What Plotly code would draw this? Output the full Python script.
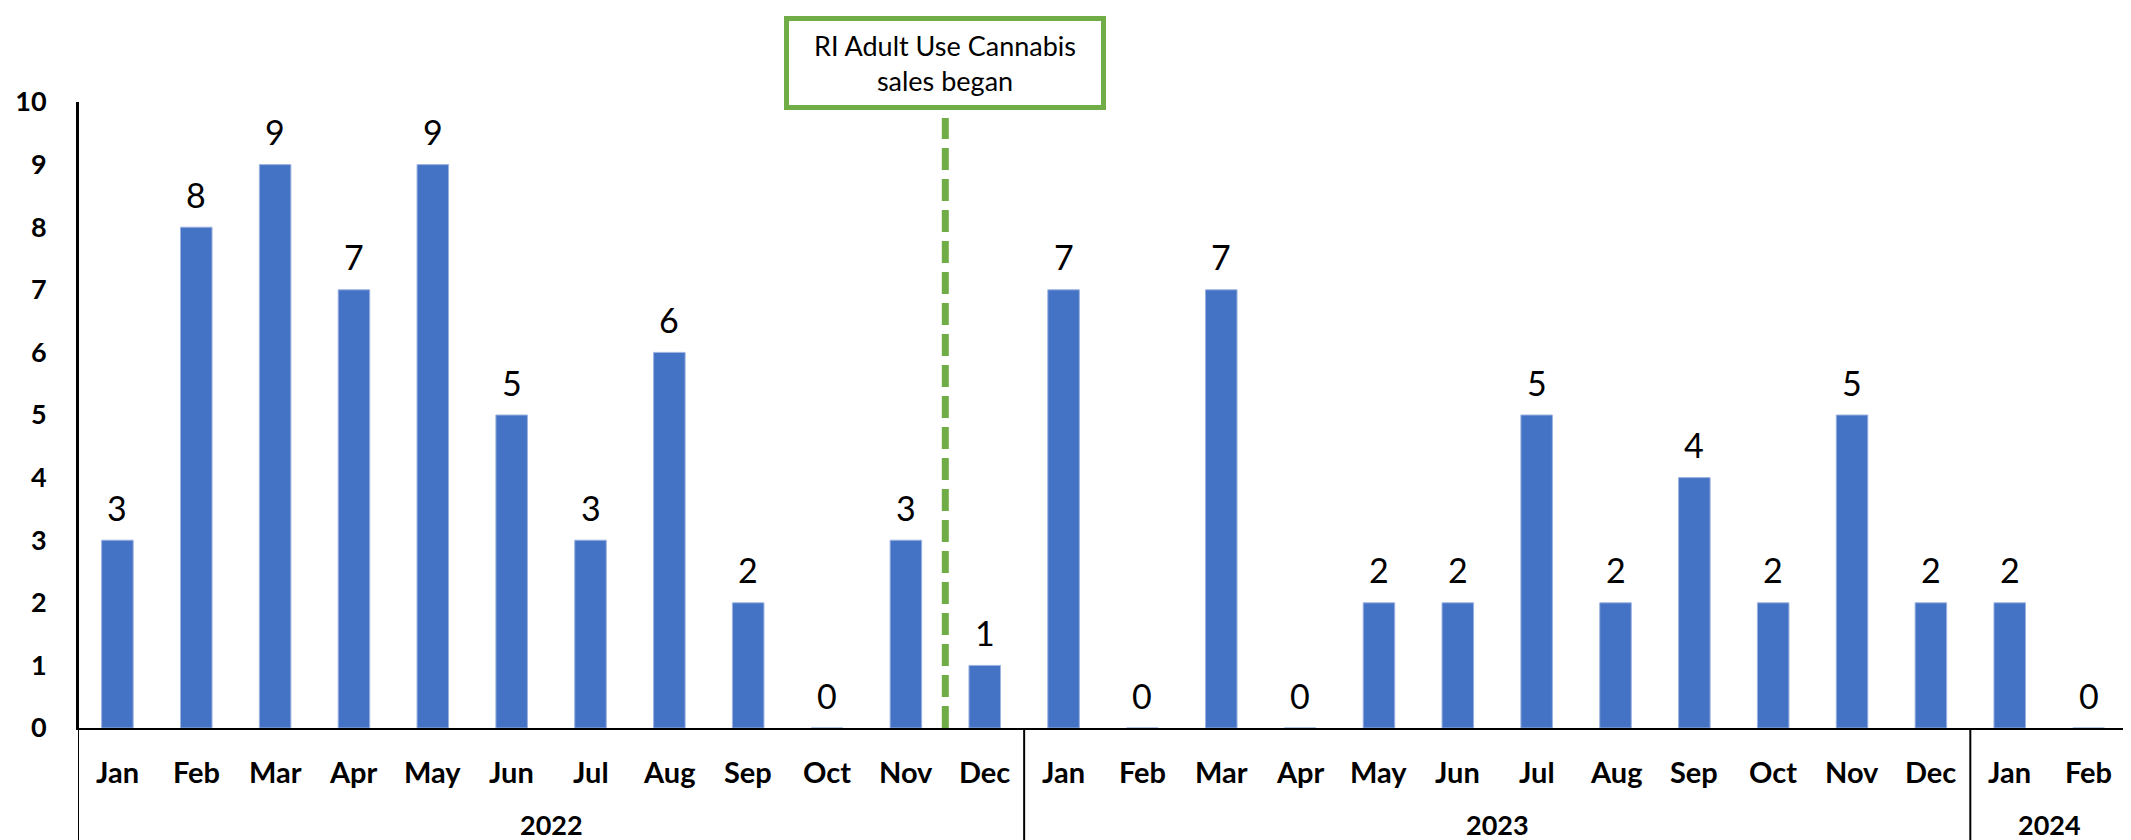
import plotly.graph_objects as go

months = ["Jan", "Feb", "Mar", "Apr", "May", "Jun", "Jul", "Aug", "Sep", "Oct", "Nov", "Dec",
          "Jan", "Feb", "Mar", "Apr", "May", "Jun", "Jul", "Aug", "Sep", "Oct", "Nov", "Dec",
          "Jan", "Feb"]
years = ["2022", "2023", "2024"]
year_counts = [12, 12, 2]
values = [3, 8, 9, 7, 9, 5, 3, 6, 2, 0, 3, 1,
          7, 0, 7, 0, 2, 2, 5, 2, 4, 2, 5, 2,
          2, 0]
y_ticks = [0, 1, 2, 3, 4, 5, 6, 7, 8, 9, 10]
event_text = "RI Adult Use Cannabis<br>sales began"
event_pos = 10.5  # between Nov and Dec 2022

FONT = "Lato"
OFF = 8  # default page body margin
W, H = 2131 - OFF, 840 - OFF
L, R, T, B = 78 - OFF, 3, 102 - OFF, 120 - OFF
ph = H - T - B

def py(pix):
    # pix: pixel row in the full page
    return (840 - 120 - pix) / ph

xs = list(range(len(values)))

fig = go.Figure()
fig.add_trace(go.Bar(
    x=xs, y=values, width=0.4,
    marker=dict(color="#4472C4", line=dict(color="#9DB3E0", width=1)),
    hoverinfo="skip",
))

annotations = []
for i, v in enumerate(values):
    annotations.append(dict(x=i, y=v, xref="x", yref="y", text=str(v), showarrow=False,
                            yshift=33, xanchor="center", yanchor="middle",
                            font=dict(family=FONT, size=34, color="black")))
for i, m in enumerate(months):
    annotations.append(dict(x=i, y=py(763), xref="x", yref="paper", text=m, showarrow=False,
                            font=dict(family=FONT, size=29, color="black", weight="bold"),
                            xanchor="center", yanchor="middle"))
start = 0
boundaries = [-0.5]
for yname, cnt in zip(years, year_counts):
    center = start + (cnt - 1) / 2
    annotations.append(dict(x=center, y=py(816), xref="x", yref="paper", text=yname, showarrow=False,
                            font=dict(family=FONT, size=27, color="black", weight="bold"),
                            xanchor="center", yanchor="middle"))
    start += cnt
    boundaries.append(start - 0.5)

annotations.append(dict(x=event_pos, y=py(55.5), xref="x", yref="paper", text=event_text,
                        showarrow=False, font=dict(family=FONT, size=27, color="black"),
                        bordercolor="#70AD47", borderwidth=5, borderpad=0, bgcolor="white",
                        width=312, height=84, xanchor="center", yanchor="middle"))

shapes = []
for bx in boundaries:
    top = 1 if bx == -0.5 else 0
    shapes.append(dict(type="line", xref="x", yref="paper", x0=bx, x1=bx, y0=py(845), y1=top,
                       line=dict(color="black", width=2)))
shapes.append(dict(type="line", xref="x", yref="paper", x0=event_pos, x1=event_pos,
                   y0=0, y1=py(110), line=dict(color="#70AD47", width=7, dash="22px,9px")))

fig.update_layout(
    width=W, height=H,
    margin=dict(l=L, r=R, t=T, b=B, pad=0),
    paper_bgcolor="white", plot_bgcolor="white",
    showlegend=False,
    annotations=annotations, shapes=shapes,
    bargap=0.6,
    xaxis=dict(range=[-0.5, len(values) - 0.5], showticklabels=False, ticks="",
               showgrid=False, zeroline=False, showline=True, linecolor="black", linewidth=2),
    yaxis=dict(range=[0, 10], tickvals=y_ticks, ticks="", showgrid=False, zeroline=False,
               showline=True, linecolor="black", linewidth=2, ticklabelstandoff=24,
               tickfont=dict(family=FONT, size=27, color="black", weight="bold")),
)

fig.write_html("out.html")
